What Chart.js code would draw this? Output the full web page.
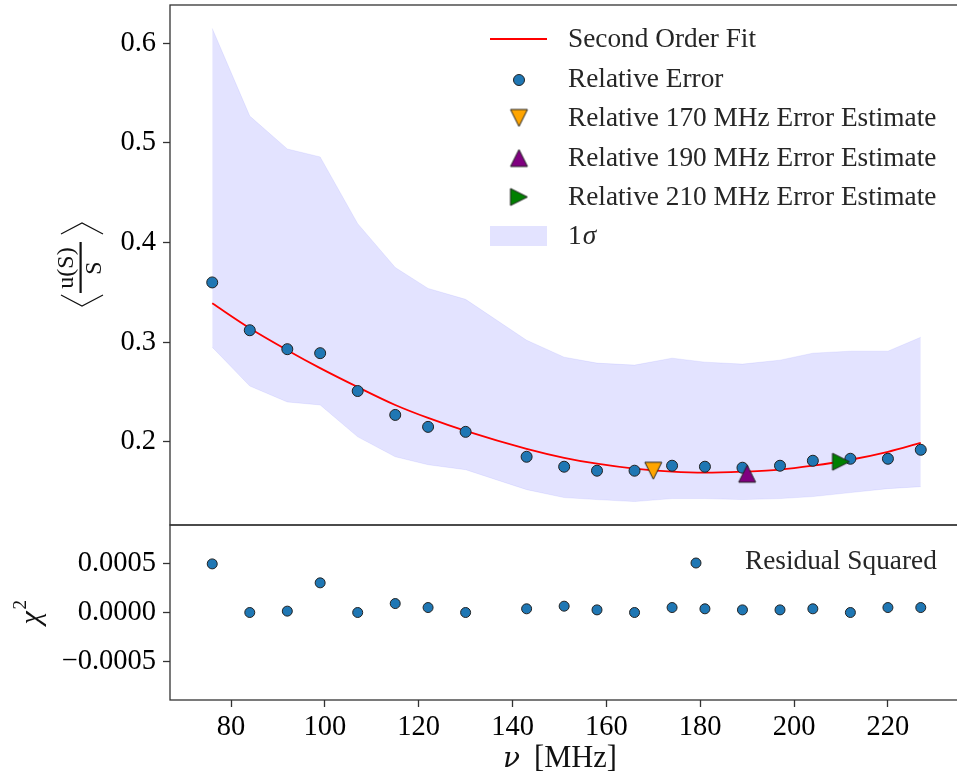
<!DOCTYPE html>
<html><head><meta charset="utf-8">
<script src="https://cdn.jsdelivr.net/npm/chart.js@4/dist/chart.umd.min.js"></script>
<style>
html,body{margin:0;padding:0;background:#fff;overflow:hidden;width:957px;height:775px;}
#wrap{position:relative;width:957px;height:775px;overflow:hidden;}
#c1{position:absolute;left:0;top:0;}
#c2{position:absolute;left:0;top:520px;}
</style></head><body>
<div id="wrap"><canvas id="c1" width="965" height="527"></canvas><canvas id="c2" width="965" height="255"></canvas></div>
<script>
// ---- data ----
const frequencies = [76,84,92,99,107,115,122,130,143,151,158,166,174,181,189,197,204,212,220,227];
const relativeError = [0.360,0.312,0.293,0.289,0.251,0.227,0.215,0.210,0.185,0.175,0.171,0.171,0.176,0.175,0.174,0.176,0.181,0.183,0.183,0.192];
const fitValues = [0.339,0.314,0.292,0.274,0.255,0.237,0.224,0.211,0.193,0.184,0.178,0.173,0.170,0.169,0.170,0.172,0.176,0.182,0.190,0.199];
const sigmaUpper = [0.615,0.527,0.494,0.486,0.419,0.375,0.354,0.343,0.302,0.285,0.279,0.277,0.284,0.280,0.278,0.282,0.289,0.291,0.291,0.305];
const sigmaLower = [0.295,0.256,0.240,0.237,0.205,0.185,0.177,0.172,0.152,0.144,0.142,0.140,0.143,0.143,0.142,0.143,0.145,0.149,0.153,0.155];
const residualSquared = [0.00050,0.0,0.000014,0.000305,0.0,0.000092,0.000051,0.0,0.000038,0.000065,0.000027,0.0,0.000051,0.000038,0.000027,0.000027,0.000038,0.0,0.000051,0.000051];
const estimateFreqs = [170,190,210];
const estimateValues = [0.171,0.168,0.180];
const estimateLabels = ['Relative 170 MHz Error Estimate','Relative 190 MHz Error Estimate','Relative 210 MHz Error Estimate'];
const xTicks = [80,100,120,140,160,180,200,220];
const yTopTicks = [0.2,0.3,0.4,0.5,0.6];
const yTopTickLabels = ['0.2','0.3','0.4','0.5','0.6'];
const yBottomTicks = [-0.0005,0,0.0005];
const yBottomTickLabels = ['\u22120.0005','0.0000','0.0005'];

// ---- styles ----
const FONT = '"Liberation Serif", "Times New Roman", serif';
const BLUE = '#1f77b4', EDGE = '#222';
const AXIS = '#333';
const TICK_SIZE = 28.5;
Chart.defaults.font.family = FONT;
Chart.defaults.color = '#000';

function triCanvas(dir, fill){
  const s = 21, c = document.createElement('canvas'); c.width = s; c.height = s;
  const g = c.getContext('2d'); const h = 8.5, m = s/2;
  g.beginPath();
  if (dir === 'down'){ g.moveTo(m-h,m-h); g.lineTo(m+h,m-h); g.lineTo(m,m+h); }
  else if (dir === 'up'){ g.moveTo(m-h,m+h); g.lineTo(m+h,m+h); g.lineTo(m,m-h); }
  else { g.moveTo(m-h,m-h); g.lineTo(m-h,m+h); g.lineTo(m+h,m); }
  g.closePath(); g.fillStyle = fill; g.fill(); g.lineWidth = 1; g.strokeStyle = EDGE; g.stroke();
  return c;
}
const triStyles = [triCanvas('down','#ffa500'), triCanvas('up','#800080'), triCanvas('right','#008000')];

const pts = (ys) => frequencies.map((x,i)=>({x, y: ys[i]}));

const framePlugin = {id:'frame', afterDraw(chart){
  const {ctx, chartArea:a} = chart; ctx.save(); ctx.strokeStyle = AXIS; ctx.lineWidth = 1.3;
  ctx.strokeRect(a.left, a.top, a.right-a.left, a.bottom-a.top); ctx.restore();
}};

function noPad(s){ s.paddingTop = 0; s.paddingBottom = 0; s.paddingLeft = 0; s.paddingRight = 0; }

const xScaleBase = {type:'linear', min:67, max:236};

function yAxis(ticks, labels, min, max){
  return {type:'linear', min, max,
    afterFit(s){ s.width = 170; noPad(s); },
    afterBuildTicks(s){ s.ticks = ticks.map(v=>({value:v})); },
    border:{display:false},
    grid:{drawOnChartArea:false, drawTicks:true, tickLength:7, tickWidth:1.3, tickColor:AXIS},
    ticks:{padding:7, color:'#000', font:{size:TICK_SIZE, family:FONT}, callback:(v,i)=>labels[i]}
  };
}

const topPlugin = {id:'topDeco', afterDraw(chart){
  const ctx = chart.ctx; ctx.save();
  // legend
  ctx.font = '27.3px ' + FONT; ctx.fillStyle = '#262626'; ctx.textBaseline = 'middle'; ctx.textAlign = 'left';
  const tx = 568, mx = 519;
  const rows = [40, 79.5, 119, 158.5, 197.5, 237];
  ctx.strokeStyle = '#ff0000'; ctx.lineWidth = 1.8; ctx.beginPath(); ctx.moveTo(490,39); ctx.lineTo(547,39); ctx.stroke();
  ctx.fillText('Second Order Fit', tx, rows[0]);
  ctx.beginPath(); ctx.arc(mx, 80, 5.5, 0, Math.PI*2); ctx.fillStyle = BLUE; ctx.fill(); ctx.strokeStyle = EDGE; ctx.lineWidth = 1; ctx.stroke();
  ctx.fillStyle = '#262626'; ctx.fillText('Relative Error', tx, rows[1]);
  const my = [118, 158, 197];
  for (let i=0;i<3;i++){ ctx.drawImage(triStyles[i], mx-10.5, my[i]-10.5); ctx.fillText(estimateLabels[i], tx, rows[2+i]); }
  ctx.fillStyle = 'rgba(0,0,255,0.11)'; ctx.fillRect(490,226,57,20);
  ctx.fillStyle = '#262626'; ctx.fillText('1', tx, rows[5]);
  const w1 = ctx.measureText('1').width;
  ctx.font = 'italic 27.3px ' + FONT; ctx.fillText('\u03c3', tx + w1 + 1, rows[5]);
  // y label <u(S)/S>
  ctx.translate(82, 265); ctx.rotate(-Math.PI/2);
  ctx.fillStyle = '#111'; ctx.strokeStyle = '#111'; ctx.textAlign = 'center'; ctx.textBaseline = 'alphabetic';
  ctx.font = '24px ' + FONT;
  ctx.fillText('u(S)', -3, -9);
  ctx.fillText('S', -3, 19);
  ctx.fillRect(-28, -2.5, 51, 2.2);
  ctx.lineWidth = 1.2;
  ctx.beginPath(); ctx.moveTo(-30,-21); ctx.lineTo(-41,0); ctx.lineTo(-30,21); ctx.stroke();
  ctx.beginPath(); ctx.moveTo(31,-21); ctx.lineTo(42,0); ctx.lineTo(31,21); ctx.stroke();
  ctx.restore();
}};

new Chart(document.getElementById('c1'), {
  type:'line',
  data:{datasets:[
    {label:'Relative 170 MHz Error Estimate', data:[{x:estimateFreqs[0], y:estimateValues[0]}], showLine:false, pointStyle:triStyles[0], order:0},
    {label:'Relative 190 MHz Error Estimate', data:[{x:estimateFreqs[1], y:estimateValues[1]}], showLine:false, pointStyle:triStyles[1], order:0},
    {label:'Relative 210 MHz Error Estimate', data:[{x:estimateFreqs[2], y:estimateValues[2]}], showLine:false, pointStyle:triStyles[2], order:1},
    {label:'Relative Error', data:pts(relativeError), showLine:false, pointStyle:'circle', pointRadius:5.5, pointBackgroundColor:BLUE, pointBorderColor:EDGE, pointBorderWidth:1, order:1},
    {label:'Second Order Fit', data:pts(fitValues), borderColor:'#ff0000', borderWidth:1.8, pointRadius:0, cubicInterpolationMode:'monotone', fill:false, order:2},
    {label:'1σ upper', data:pts(sigmaUpper), borderColor:'rgba(0,0,255,0.07)', borderWidth:1, pointRadius:0, fill:'+1', backgroundColor:'rgba(0,0,255,0.11)', tension:0, order:3},
    {label:'1σ lower', data:pts(sigmaLower), borderColor:'rgba(0,0,255,0.07)', borderWidth:1, pointRadius:0, fill:false, tension:0, order:4}
  ]},
  options:{responsive:false, animation:false, events:[],
    layout:{autoPadding:false, padding:{top:5, right:2, bottom:2, left:0}},
    plugins:{legend:{display:false}, tooltip:{enabled:false}},
    scales:{
      x:Object.assign({display:false}, xScaleBase),
      y:yAxis(yTopTicks, yTopTickLabels, 0.1165, 0.6385)
    }
  },
  plugins:[framePlugin, topPlugin]
});

const bottomPlugin = {id:'botDeco', afterDraw(chart){
  const ctx = chart.ctx; ctx.save();
  ctx.beginPath(); ctx.arc(696, 43, 5, 0, Math.PI*2); ctx.fillStyle = BLUE; ctx.fill(); ctx.strokeStyle = EDGE; ctx.lineWidth = 1; ctx.stroke();
  ctx.font = '27.3px ' + FONT; ctx.fillStyle = '#262626'; ctx.textBaseline = 'middle'; ctx.textAlign = 'left';
  ctx.fillText('Residual Squared', 745, 42);
  // x label
  ctx.fillStyle = '#111'; ctx.textBaseline = 'alphabetic';
  ctx.font = 'italic 28px "DejaVu Serif", ' + FONT; ctx.fillText('\u03bd', 503, 247);
  ctx.font = '30.5px ' + FONT; ctx.fillText('[MHz]', 534, 247);
  // y label chi^2
  ctx.translate(31, 93); ctx.rotate(-Math.PI/2);
  ctx.textAlign = 'left';
  ctx.font = 'italic 30px ' + FONT; const wc = ctx.measureText('\u03c7').width;
  ctx.fillText('\u03c7', -wc/2 - 5, 9);
  ctx.font = '19px ' + FONT; ctx.fillText('2', wc/2 - 3, -5);
  ctx.restore();
}};

new Chart(document.getElementById('c2'), {
  type:'line',
  data:{datasets:[
    {label:'Residual Squared', data:pts(residualSquared), showLine:false, pointStyle:'circle', pointRadius:5, pointBackgroundColor:BLUE, pointBorderColor:EDGE, pointBorderWidth:1}
  ]},
  options:{responsive:false, animation:false, events:[],
    layout:{autoPadding:false, padding:{top:5, right:2, bottom:0, left:0}},
    plugins:{legend:{display:false}, tooltip:{enabled:false}},
    scales:{
      x:Object.assign({
        afterFit(s){ s.height = 75; noPad(s); },
        afterBuildTicks(s){ s.ticks = xTicks.map(v=>({value:v})); },
        border:{display:false},
        grid:{drawOnChartArea:false, drawTicks:true, tickLength:7, tickWidth:1.3, tickColor:AXIS},
        ticks:{padding:3, color:'#000', maxRotation:0, font:{size:TICK_SIZE, family:FONT}, callback:(v)=>String(v)}
      }, xScaleBase),
      y:yAxis(yBottomTicks, yBottomTickLabels, -0.0009, 0.0009)
    }
  },
  plugins:[framePlugin, bottomPlugin]
});
</script>
</body></html>
